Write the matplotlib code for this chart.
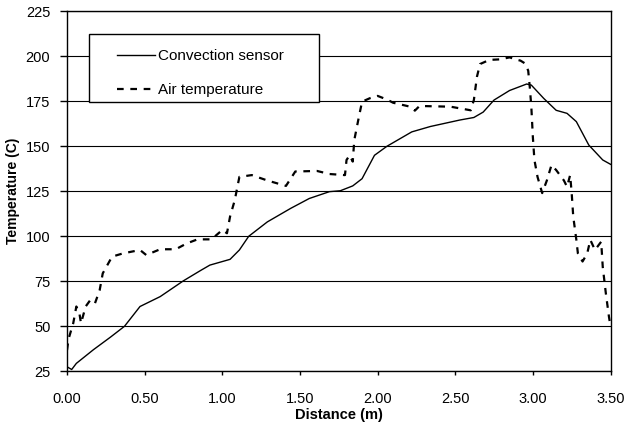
import matplotlib
matplotlib.use('Agg')
import matplotlib.pyplot as plt
from matplotlib.patches import Rectangle

plt.rcParams['font.family'] = ['Liberation Sans', 'DejaVu Sans']

# convection sensor (solid)
sens_x = [0.00, 0.03, 0.06, 0.17, 0.28, 0.37, 0.47, 0.60, 0.75, 0.86, 0.92, 1.05,
          1.11, 1.17, 1.29, 1.44, 1.56, 1.69, 1.76, 1.84, 1.90, 1.98, 2.06, 2.22,
          2.34, 2.53, 2.62, 2.68, 2.75, 2.85, 2.96, 2.99, 3.07, 3.15, 3.22, 3.28,
          3.36, 3.45, 3.50]
sens_y = [27.5, 26.0, 29.4, 37.0, 44.0, 50.0, 61.0, 66.5, 75.3, 81.0, 84.0, 87.2,
          92.4, 100.0, 108.0, 115.5, 121.0, 124.8, 125.3, 128.0, 132.0, 145.0, 150.0, 158.0,
          161.0, 164.6, 166.0, 169.0, 175.7, 181.0, 184.6, 184.0, 176.6, 170.0, 168.3, 163.7,
          150.7, 142.4, 140.0]

# air temperature (dashed)
air_x = [0.00, 0.01, 0.04, 0.06, 0.08, 0.09, 0.12, 0.15, 0.18, 0.21, 0.23, 0.29,
         0.36, 0.47, 0.51, 0.60, 0.70, 0.77, 0.84, 0.93, 1.00, 1.03, 1.05, 1.08,
         1.11, 1.19, 1.29, 1.41, 1.47, 1.61, 1.69, 1.79, 1.80, 1.82, 1.84, 1.85,
         1.88, 1.90, 1.95, 2.00, 2.06, 2.10, 2.21, 2.24, 2.27, 2.47, 2.60, 2.62,
         2.64, 2.66, 2.72, 2.79, 2.85, 2.90, 2.92, 2.95, 2.97, 2.98, 2.99, 3.00,
         3.01, 3.03, 3.06, 3.09, 3.12, 3.15, 3.20, 3.22, 3.24, 3.25, 3.26, 3.28,
         3.29, 3.32, 3.35, 3.37, 3.40, 3.44, 3.45, 3.47, 3.49, 3.50]
air_y = [36.8, 43.0, 51.7, 61.0, 57.0, 51.7, 61.0, 64.6, 62.8, 70.0, 79.4, 88.7,
         90.5, 92.4, 89.6, 92.8, 92.8, 96.0, 98.3, 98.3, 103.5, 101.7, 111.0, 120.0,
         133.0, 134.0, 131.0, 128.0, 136.0, 136.3, 134.6, 134.0, 142.4, 145.0, 141.5, 153.5,
         166.5, 174.8, 176.7, 178.0, 176.0, 174.2, 172.0, 169.8, 172.4, 172.0, 170.0, 175.7,
         188.7, 195.7, 198.0, 198.3, 199.4, 198.0, 197.6, 196.0, 192.0, 183.0, 172.0, 155.0,
         142.4, 133.0, 124.0, 131.0, 139.6, 136.8, 131.0, 127.5, 134.0, 124.0, 111.0, 98.0,
         90.5, 86.0, 90.5, 98.0, 92.4, 97.0, 83.0, 68.3, 55.3, 50.0]

y_ticks = [25, 50, 75, 100, 125, 150, 175, 200, 225]
x_ticks = [0.0, 0.5, 1.0, 1.5, 2.0, 2.5, 3.0, 3.5]

fig = plt.figure(figsize=(6.27, 4.26), dpi=100)
ax = fig.add_axes([0.1069, 0.1284, 0.8668, 0.8451])

ax.plot(sens_x, sens_y, color='black', lw=1.0, label='Convection sensor')
ax.plot(air_x, air_y, color='black', lw=1.6, linestyle=(0, (3, 3)), label='Air temperature')

ax.set_xlim(0, 3.5)
ax.set_ylim(25, 225)
ax.set_xticks(x_ticks)
ax.set_xticklabels([f'{v:.2f}' for v in x_ticks])
ax.set_yticks(y_ticks)
ax.yaxis.grid(True, color='black', lw=0.8)
ax.set_axisbelow(True)
ax.tick_params(axis='both', labelsize=10.5, direction='out', color='black')
ax.tick_params(axis='y', length=5, width=1, pad=7)
ax.tick_params(axis='x', length=3, width=1, pad=12)
for s in ax.spines.values():
    s.set_linewidth(1.0)

ax.set_xlabel('Distance (m)', fontsize=10.5, fontweight='bold', labelpad=1)
ax.set_ylabel('Temperature (C)', fontsize=10, fontweight='bold', labelpad=4)

# legend box
ax.add_patch(Rectangle((0.0405, 0.748), 0.423, 0.189, transform=ax.transAxes,
                       facecolor='white', edgecolor='black', lw=1.0, zorder=5))
leg = ax.legend(loc='upper left', bbox_to_anchor=(0.092, 0.894), frameon=False,
                borderpad=0, borderaxespad=0, handlelength=2.5, handletextpad=0.2,
                labelspacing=1.3, fontsize=11)
leg.set_zorder(6)

fig.savefig('out.png', dpi=100)
